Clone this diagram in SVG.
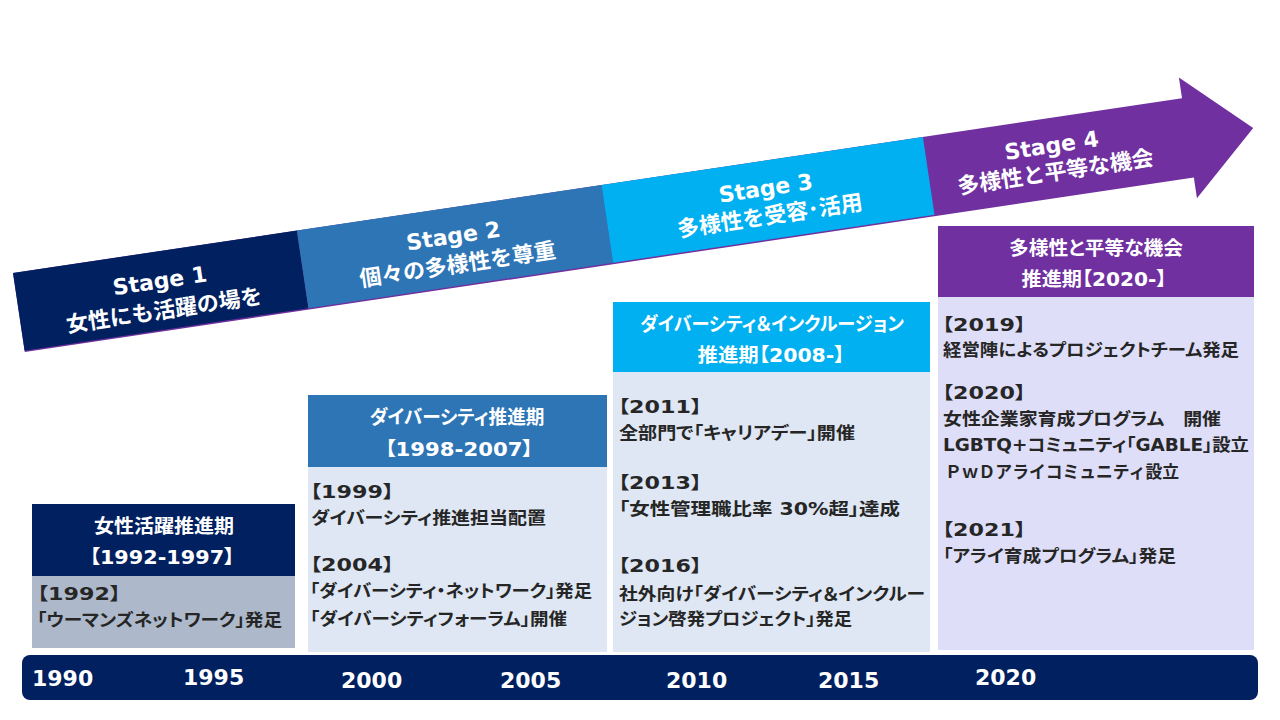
<svg xmlns="http://www.w3.org/2000/svg" width="1280" height="720" viewBox="0 0 1280 720">
<style>
.st{font-family:"DejaVu Sans","Noto Sans CJK JP",sans-serif;font-weight:bold;font-size:22px;fill:#fff;text-anchor:middle}
.hd{font-family:"DejaVu Sans","Noto Sans CJK JP",sans-serif;font-weight:bold;font-size:19px;fill:#fff;text-anchor:middle;font-feature-settings:"palt"}
.bd{font-family:"DejaVu Sans","Noto Sans CJK JP",sans-serif;font-weight:bold;font-size:17.5px;fill:#262626;font-feature-settings:"palt"}
.fw{font-feature-settings:normal}
.yr{font-family:"DejaVu Sans","Noto Sans CJK JP",sans-serif;font-weight:bold;font-size:22px;fill:#fff}
</style>
<rect width="1280" height="720" fill="#fff"/>
<g id="arrow" transform="translate(13,273) rotate(-8.5)">
  <path d="M0,0 L1182,0 L1182,-21 L1248,40 L1182,101 L1182,80 L0,80 Z" fill="#7030a0"/>
  <rect x="0" y="0" width="287" height="78.5" fill="#002060"/>
  <rect x="287" y="0" width="308" height="78.5" fill="#2e75b6"/>
  <rect x="595" y="0" width="325" height="78.5" fill="#00b0f0"/>
  <text class="st" x="144" y="37">Stage 1</text>
  <text class="st" x="144" y="67">女性にも活躍の場を</text>
  <text class="st" x="441" y="36">Stage 2</text>
  <text class="st" x="441" y="65">個々の多様性を尊重</text>
  <text class="st" x="757" y="35">Stage 3</text>
  <text class="st" x="757" y="63">多様性を受容･活用</text>
  <text class="st" x="1046" y="35">Stage 4</text>
  <text class="st" x="1046" y="62">多様性と平等な機会</text>
</g>
<g id="box1">
  <rect x="32" y="504" width="263" height="72" fill="#002060"/>
  <rect x="32" y="576" width="263" height="72" fill="#adb9ca"/>
  <text class="hd" x="164" y="533" textLength="140" lengthAdjust="spacingAndGlyphs">女性活躍推進期</text>
  <text class="hd" x="162" y="564" textLength="145" lengthAdjust="spacingAndGlyphs">【1992-1997】</text>
  <text class="bd" x="37" y="600" textLength="84" lengthAdjust="spacingAndGlyphs">【1992】</text>
  <text class="bd" x="37" y="626" textLength="245" lengthAdjust="spacingAndGlyphs">「ウーマンズネットワーク」発足</text>
</g>
<g id="box2">
  <rect x="308" y="395" width="299" height="72" fill="#2e75b6"/>
  <rect x="308" y="467" width="299" height="185" fill="#dee7f3"/>
  <text class="hd" x="457" y="424" textLength="175" lengthAdjust="spacingAndGlyphs">ダイバーシティ推進期</text>
  <text class="hd" x="459" y="456" textLength="148" lengthAdjust="spacingAndGlyphs">【1998-2007】</text>
  <text class="bd" x="310" y="498" textLength="84" lengthAdjust="spacingAndGlyphs">【1999】</text>
  <text class="bd" x="311" y="524" textLength="235" lengthAdjust="spacingAndGlyphs">ダイバーシティ推進担当配置</text>
  <text class="bd" x="310" y="571" textLength="84" lengthAdjust="spacingAndGlyphs">【2004】</text>
  <text class="bd" x="310" y="597" textLength="282" lengthAdjust="spacingAndGlyphs">「ダイバーシティ・ネットワーク」発足</text>
  <text class="bd" x="310" y="625" textLength="257" lengthAdjust="spacingAndGlyphs">「ダイバーシティフォーラム」開催</text>
</g>
<g id="box3">
  <rect x="613" y="302" width="317" height="70" fill="#00b0f0"/>
  <rect x="613" y="372" width="317" height="280" fill="#dee7f3"/>
  <text class="hd" x="772" y="331" textLength="264" lengthAdjust="spacingAndGlyphs">ダイバーシティ＆インクルージョン</text>
  <text class="hd" x="771" y="362" textLength="147" lengthAdjust="spacingAndGlyphs">推進期【2008-】</text>
  <text class="bd" x="618" y="413" textLength="84" lengthAdjust="spacingAndGlyphs">【2011】</text>
  <text class="bd" x="619" y="439" textLength="236" lengthAdjust="spacingAndGlyphs">全部門で「キャリアデー」開催</text>
  <text class="bd" x="618" y="489" textLength="84" lengthAdjust="spacingAndGlyphs">【2013】</text>
  <text class="bd" x="619" y="515" textLength="281" lengthAdjust="spacingAndGlyphs">「女性管理職比率 30%超」達成</text>
  <text class="bd" x="618" y="572" textLength="84" lengthAdjust="spacingAndGlyphs">【2016】</text>
  <text class="bd" x="619" y="600" textLength="306" lengthAdjust="spacingAndGlyphs">社外向け「ダイバーシティ＆インクルー</text>
  <text class="bd" x="619" y="625" textLength="233" lengthAdjust="spacingAndGlyphs">ジョン啓発プロジェクト」発足</text>
</g>
<g id="box4">
  <rect x="938" y="226" width="316" height="71" fill="#7030a0"/>
  <rect x="938" y="297" width="316" height="353" fill="#dfdef8"/>
  <text class="hd" x="1096" y="255" textLength="174" lengthAdjust="spacingAndGlyphs">多様性と平等な機会</text>
  <text class="hd" x="1094" y="286" textLength="145" lengthAdjust="spacingAndGlyphs">推進期【2020-】</text>
  <text class="bd" x="942" y="331" textLength="84" lengthAdjust="spacingAndGlyphs">【2019】</text>
  <text class="bd" x="943" y="356" textLength="296" lengthAdjust="spacingAndGlyphs">経営陣によるプロジェクトチーム発足</text>
  <text class="bd" x="942" y="399" textLength="84" lengthAdjust="spacingAndGlyphs">【2020】</text>
  <text class="bd" x="943" y="425" textLength="278" lengthAdjust="spacingAndGlyphs">女性企業家育成プログラム　開催</text>
  <text class="bd" x="943" y="451" textLength="306" lengthAdjust="spacingAndGlyphs">LGBTQ+コミュニティ「GABLE」設立</text>
  <text class="bd fw" x="945" y="478" textLength="234" lengthAdjust="spacingAndGlyphs">ＰｗＤアライコミュニティ設立</text>
  <text class="bd" x="942" y="536" textLength="84" lengthAdjust="spacingAndGlyphs">【2021】</text>
  <text class="bd" x="943" y="562" textLength="233" lengthAdjust="spacingAndGlyphs">「アライ育成プログラム」発足</text>
</g>
<g id="timeline">
  <rect x="22" y="655" width="1236" height="45" rx="8" fill="#002060"/>
  <text class="yr" x="32" y="686">1990</text>
  <text class="yr" x="183" y="685">1995</text>
  <text class="yr" x="341" y="688">2000</text>
  <text class="yr" x="500" y="688">2005</text>
  <text class="yr" x="666" y="688">2010</text>
  <text class="yr" x="818" y="688">2015</text>
  <text class="yr" x="975" y="685">2020</text>
</g>
<g id="connectors"/>
</svg>
